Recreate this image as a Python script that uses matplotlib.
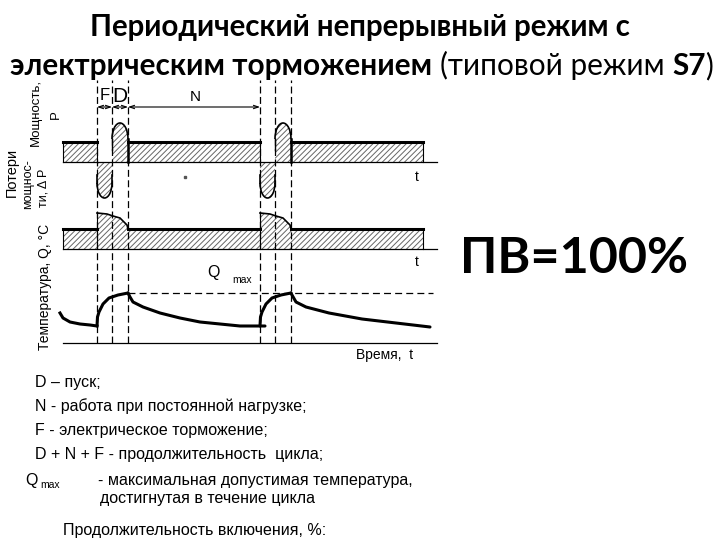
import matplotlib
matplotlib.use("Agg")
import matplotlib.pyplot as plt
from matplotlib.patches import Ellipse, Rectangle

W, H = 720, 540

# phase boundaries on the time axis (F - braking, D - start, N - load)
brake_on = [34, 197]
start_on = [49, 212]
load_on = [65, 228]
t_stop = 360
t_axis = 374

# power, relative to the load level
p_load = 1.0
p_start = 1.95      # top of the start hump
p_start_arc = 1.15  # where the hump's rounded top begins
p_brake = -1.8      # bottom of the braking lobe
p_brake_arc = -1.05
p_brake_edge = -0.65

# losses: level under load and the peak during F + D (time relative to N start)
dp_load = 1.0
dp_peak_dt = [-31, -21, -15, -8, -4, -1, 0]
dp_peak = [1.8, 1.75, 1.65, 1.55, 1.35, 1.2, 1.0]

# temperature, arbitrary units
q_max = 50
temp_tail_t = [-3, 0, 7, 17, 27, 34]
temp_tail = [30, 25, 21, 19, 18, 17]
heat_dt = [-31, -30.5, -29, -25, -19, -10, 0]
heat = [17, 26, 31, 39, 45, 48, 50]
cool_dt = [[0, 2, 5, 15, 32, 52, 72, 92, 112, 137],
           [0, 1, 5, 15, 38, 71, 105, 139]]
cool = [[50, 46, 41, 36, 30, 25, 21, 19, 17, 17],
        [50, 48, 41, 36, 30, 24, 20, 16]]

title_1 = "Периодический непрерывный режим с"
title_2 = [("электрическим торможением", "bold"), (" ", "normal"),
           ("(типовой режим", "normal"), (" ", "normal"),
           ("S7", "bold"), (")", "normal")]
notes = ["D – пуск;",
         "N - работа при постоянной нагрузке;",
         "F - электрическое торможение;",
         "D + N + F - продолжительность  цикла;"]

plt.rcParams['hatch.linewidth'] = 0.7
plt.rcParams['lines.scale_dashes'] = False
ARIAL = 'Liberation Sans'
HATCH = '#666666'
HATCH_KW = dict(facecolor='white', edgecolor=HATCH, hatch='//////', lw=0)

fig = plt.figure(figsize=(W / 100, H / 100), dpi=100)
renderer = fig.canvas.get_renderer()


def px_axes(y0, y1, ylim):
    # axes spanning x pixels 58..443 (t = -5..380) and y pixels y0..y1
    ax = fig.add_axes([58 / W, 1 - y1 / H, 385 / W, (y1 - y0) / H])
    ax.set_xlim(-5, 380)
    ax.set_ylim(*ylim)
    ax.axis('off')
    ax.patch.set_alpha(0)
    return ax


def ftext(x, y, s, **kw):
    return fig.text(x / W, 1 - y / H, s, **kw)


def width(t):
    return t.get_window_extent(renderer=renderer).width


def half_ellipse(ax, cx, cy, w, h, above):
    clip = Rectangle((-10, cy if above else cy - 20), 400, 20, transform=ax.transData)
    for kw in (HATCH_KW, dict(fill=False, edgecolor='black', lw=1.2)):
        e = Ellipse((cx, cy), w, h, **kw)
        ax.add_patch(e)
        e.set_clip_path(clip)


# ---------------- power ----------------
ax_p = px_axes(78, 215, (-2.65, 4.2))
segments = [(0, brake_on[0]), (load_on[0], brake_on[1]), (load_on[1], t_stop)]
for a, b in segments:
    ax_p.fill_between([a, b], 0, p_load, **HATCH_KW)
    ax_p.plot([a, b], [p_load, p_load], color='black', lw=2.2)
for x in [0, brake_on[0], brake_on[1], t_stop]:
    ax_p.plot([x, x], [0, p_load], color='black', lw=0.8)

for b, s, l in zip(brake_on, start_on, load_on):
    # start hump
    ax_p.fill_between([s, l], 0, p_start_arc, **HATCH_KW)
    half_ellipse(ax_p, (s + l) / 2, p_start_arc, l - s, 2 * (p_start - p_start_arc), True)
    ax_p.plot([s, s], [p_load * 0.6, p_start_arc], color='black', lw=1.0)
    ax_p.plot([l, l], [0, p_start_arc], color='black', lw=1.8)
    # braking lobe
    ax_p.fill_between([b, s], p_brake_arc, 0, **HATCH_KW)
    half_ellipse(ax_p, (b + s) / 2, p_brake_arc, s - b, 2 * (p_brake_arc - p_brake), False)
    for x in (b, s):
        ax_p.plot([x, x], [p_brake_edge, p_brake_arc], color='black', lw=1.2)
ax_p.plot([0, t_axis], [0, 0], color='black', lw=0.9)

ax_p.plot([122], [-0.75], marker='s', ms=2, color='#555')
ax_p.text(354, -0.75, "t", ha='center', va='center', fontsize=10, family=ARIAL)

# phase names and dimension arrows
ax_p.text((brake_on[0] + start_on[0]) / 2, 3.3, "F", ha='center', va='center',
          fontsize=12, family=ARIAL)
ax_p.text((start_on[0] + load_on[0]) / 2, 3.3, "D", ha='center', va='center',
          fontsize=15, family=ARIAL)
ax_p.text(132, 3.25, "N", ha='center', va='center', fontsize=11, family=ARIAL)
for a, b in [(brake_on[0], start_on[0]), (start_on[0], load_on[0]),
             (load_on[0], brake_on[1])]:
    ax_p.annotate("", xy=(a, 2.75), xytext=(b, 2.75),
                  arrowprops=dict(arrowstyle='<->,head_length=0.35,head_width=0.12',
                                  color='black', lw=0.8, shrinkA=0, shrinkB=0))

# ---------------- losses ----------------
ax_l = px_axes(195, 275, (-1.3, 2.7))
lt, lv = [0], [dp_load]
for b, l in zip(brake_on, load_on):
    lt += [b]
    lv += [dp_load]
    lt += [l + d for d in dp_peak_dt]
    lv += dp_peak
lt += [t_stop]
lv += [dp_load]
ax_l.fill_between(lt, 0, lv, **HATCH_KW)
for a, b in segments:
    ax_l.plot([a, b], [dp_load, dp_load], color='black', lw=2.2)
for b, l in zip(brake_on, load_on):
    ax_l.plot([b, b], [0, dp_peak[0]], color='black', lw=0.8)
    ax_l.plot([l + d for d in dp_peak_dt], dp_peak, color='black', lw=1.2)
for x in [0, t_stop]:
    ax_l.plot([x, x], [0, dp_load], color='black', lw=0.8)
ax_l.plot([0, t_axis], [0, 0], color='black', lw=0.9)
ax_l.text(354, -0.65, "t", ha='center', va='center', fontsize=10, family=ARIAL)

# ---------------- temperature ----------------
ax_t = px_axes(265, 365, (-22, 78))
ax_t.plot([0, t_axis], [0, 0], color='black', lw=0.9)
ax_t.plot([load_on[0], 370], [q_max, q_max], color='black', lw=0.9, dashes=(5, 3))
ax_t.plot(temp_tail_t, temp_tail, color='black', lw=2.2)
for i, l in enumerate(load_on):
    ax_t.plot([l + d for d in heat_dt], heat, color='black', lw=2.2,
              solid_capstyle='round')
    ax_t.plot([l + d for d in cool_dt[i]], cool[i], color='black', lw=2.2,
              solid_capstyle='round')
ax_t.text(150, 70, "Q", ha='center', va='center', fontsize=11.5, family=ARIAL)
ax_t.text(179, 63, "max", ha='center', va='center', fontsize=7.5, family=ARIAL)
ax_t.text(322, -12, "Время,  t", ha='center', va='center', fontsize=10, family=ARIAL)

# dashed phase boundaries through all three panels
ax_v = px_axes(80, 343, (0, 1))
for x in sorted(brake_on + start_on + load_on):
    ax_v.plot([x, x], [0, 1], color='black', lw=0.9, dashes=(5, 2.5))

# ---------------- axis names ----------------
ftext(36, 113, "Мощность,", rotation=90, ha='center', va='center', fontsize=9.5, family=ARIAL)
ftext(56, 115, "P", rotation=90, ha='center', va='center', fontsize=9.5, family=ARIAL)
ftext(12, 172, "Потери", rotation=90, ha='center', va='center', fontsize=10.5, family=ARIAL)
ftext(28, 184, "мощнос-", rotation=90, ha='center', va='center', fontsize=9, family=ARIAL)
ftext(44, 188, "ти, Δ P", rotation=90, ha='center', va='center', fontsize=9, family=ARIAL)
ftext(45, 287, "Температура, Q, °C", rotation=90, ha='center', va='center',
      fontsize=10, family=ARIAL)

# ---------------- title ----------------
t1 = ftext(360, 36, title_1, ha='center', va='baseline', fontsize=20,
           fontweight='bold', family='Lato')
t1.set_fontsize(20 * 545 / width(t1))
parts = [ftext(0, 75, s, ha='left', va='baseline', fontsize=20, fontweight=w,
               family='Lato') for s, w in title_2]
scale = 702 / sum(width(p) for p in parts)
x = 10
for p in parts:
    p.set_fontsize(20 * scale)
    p.set_x(x / W)
    x += width(p)

pv = ftext(460, 273, "ПВ=100%", ha='left', va='baseline', fontsize=36,
           fontweight='bold', family='Lato')
pv.set_fontsize(36 * 228 / width(pv))

# ---------------- notes ----------------
for i, s in enumerate(notes):
    ftext(35, 382 + 24 * i, s, ha='left', va='center', fontsize=11.5, family=ARIAL)
ftext(25, 480, "Q", ha='left', va='center', fontsize=11.5, family=ARIAL)
ftext(40, 485, "max", ha='left', va='center', fontsize=7.5, family=ARIAL)
ftext(98, 480, "- максимальная допустимая температура,", ha='left', va='center',
      fontsize=11.5, family=ARIAL)
ftext(208, 499, "достигнутая в течение цикла", ha='center', va='center',
      fontsize=11.5, family=ARIAL)
ftext(63, 530, "Продолжительность включения, %:", ha='left', va='center',
      fontsize=11.5, family=ARIAL)

fig.savefig("out.png", dpi=100)
